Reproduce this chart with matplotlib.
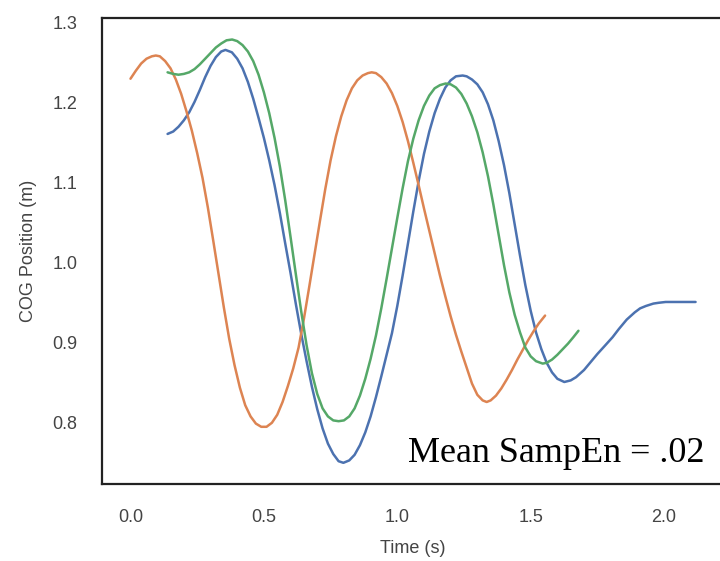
import matplotlib
matplotlib.use("Agg")
import matplotlib.pyplot as plt
import seaborn as sns

# trazos del centro de gravedad (tiempo en s, posición en m)
t_blue = [0.139, 0.16, 0.18, 0.20, 0.22, 0.24, 0.26, 0.28, 0.30, 0.32, 0.34, 0.356,
          0.38, 0.40, 0.42, 0.44, 0.46, 0.48, 0.50, 0.52, 0.54, 0.56, 0.58,
          0.60, 0.62, 0.64, 0.66, 0.68, 0.70, 0.72, 0.74, 0.76, 0.78, 0.798,
          0.82, 0.84, 0.86, 0.88, 0.90, 0.92, 0.94, 0.96, 0.98, 1.00, 1.02, 1.04,
          1.06, 1.08, 1.10, 1.12, 1.14, 1.16, 1.18, 1.20, 1.22, 1.245,
          1.26, 1.28, 1.30, 1.32, 1.34, 1.36, 1.38, 1.40, 1.42, 1.44, 1.46, 1.48,
          1.50, 1.52, 1.54, 1.56, 1.58, 1.60, 1.626,
          1.65, 1.67, 1.70, 1.72, 1.75, 1.78, 1.807, 1.83, 1.86, 1.89, 1.91, 1.932,
          1.96, 1.98, 2.006, 2.05, 2.118]
y_blue = [1.161, 1.164, 1.170, 1.178, 1.188, 1.201, 1.216, 1.232, 1.246, 1.257, 1.264, 1.266,
          1.263, 1.255, 1.243, 1.226, 1.205, 1.181, 1.156, 1.128, 1.097, 1.062, 1.024,
          0.987, 0.948, 0.911, 0.877, 0.845, 0.817, 0.793, 0.774, 0.761, 0.752, 0.750,
          0.753, 0.760, 0.772, 0.788, 0.808, 0.832, 0.858, 0.885, 0.912, 0.946, 0.984, 1.024,
          1.064, 1.102, 1.136, 1.164, 1.187, 1.205, 1.219, 1.228, 1.233, 1.234,
          1.233, 1.229, 1.223, 1.213, 1.198, 1.178, 1.152, 1.122, 1.087, 1.048, 1.009, 0.972,
          0.940, 0.913, 0.892, 0.875, 0.863, 0.855, 0.851,
          0.853, 0.857, 0.866, 0.874, 0.886, 0.897, 0.907, 0.917, 0.929, 0.938, 0.943, 0.946,
          0.949, 0.950, 0.951, 0.951, 0.951]

t_orange = [0.0, 0.02, 0.04, 0.06, 0.08, 0.095, 0.11, 0.13, 0.15, 0.17, 0.19, 0.21,
            0.23, 0.25, 0.27, 0.29, 0.31, 0.33, 0.35, 0.37, 0.39, 0.41, 0.43, 0.45,
            0.47, 0.49, 0.51, 0.53, 0.55, 0.57, 0.59, 0.61, 0.63, 0.65, 0.67, 0.69,
            0.71, 0.73, 0.75, 0.77, 0.79, 0.81, 0.83, 0.85, 0.87, 0.89, 0.904,
            0.92, 0.94, 0.96, 0.98, 1.00, 1.02, 1.04, 1.06, 1.08, 1.10, 1.12, 1.14,
            1.16, 1.18, 1.20, 1.22, 1.24, 1.26, 1.28, 1.30, 1.32, 1.335,
            1.35, 1.37, 1.39, 1.41, 1.43, 1.45, 1.47, 1.49, 1.51, 1.53, 1.554]
y_orange = [1.230, 1.240, 1.249, 1.255, 1.258, 1.259, 1.258, 1.252, 1.243, 1.229, 1.211, 1.189,
            1.165, 1.137, 1.106, 1.069, 1.028, 0.986, 0.944, 0.905, 0.872, 0.844, 0.822, 0.808,
            0.799, 0.795, 0.795, 0.800, 0.810, 0.826, 0.846, 0.868, 0.894, 0.930, 0.970, 1.011,
            1.052, 1.092, 1.128, 1.158, 1.183, 1.203, 1.218, 1.228, 1.234, 1.237, 1.238,
            1.237, 1.232, 1.224, 1.212, 1.196, 1.176, 1.152, 1.125, 1.097, 1.068, 1.040, 1.012,
            0.984, 0.958, 0.933, 0.910, 0.889, 0.869, 0.849, 0.835, 0.828, 0.826,
            0.828, 0.834, 0.843, 0.854, 0.866, 0.879, 0.891, 0.903, 0.914, 0.924, 0.934]

t_green = [0.139, 0.16, 0.18, 0.20, 0.22, 0.24, 0.26, 0.28, 0.30, 0.32, 0.34, 0.36, 0.381,
           0.40, 0.42, 0.44, 0.46, 0.48, 0.50, 0.52, 0.54, 0.56, 0.58, 0.60, 0.62,
           0.64, 0.66, 0.68, 0.70, 0.72, 0.74, 0.76, 0.78, 0.80,
           0.82, 0.84, 0.86, 0.88, 0.90, 0.92, 0.94, 0.96, 0.98, 1.00, 1.02, 1.04,
           1.06, 1.08, 1.10, 1.12, 1.14, 1.16, 1.181,
           1.20, 1.22, 1.24, 1.26, 1.28, 1.30, 1.32, 1.34, 1.36, 1.38, 1.40, 1.42,
           1.44, 1.46, 1.48, 1.50, 1.52, 1.545,
           1.56, 1.58, 1.60, 1.62, 1.64, 1.66, 1.679]
y_green = [1.238, 1.236, 1.235, 1.236, 1.238, 1.242, 1.248, 1.255, 1.262, 1.269, 1.274, 1.278, 1.279,
           1.277, 1.272, 1.264, 1.252, 1.235, 1.213, 1.187, 1.156, 1.120, 1.078, 1.032, 0.985,
           0.939, 0.897, 0.862, 0.836, 0.818, 0.808, 0.803, 0.802, 0.803,
           0.808, 0.818, 0.834, 0.855, 0.880, 0.909, 0.943, 0.980, 1.018, 1.056, 1.093, 1.127,
           1.155, 1.178, 1.196, 1.209, 1.218, 1.222, 1.224,
           1.223, 1.219, 1.211, 1.199, 1.183, 1.163, 1.138, 1.108, 1.073, 1.035, 0.997, 0.963,
           0.935, 0.913, 0.894, 0.883, 0.877, 0.874,
           0.875, 0.879, 0.885, 0.892, 0.899, 0.907, 0.915]

x_ticks = [0.0, 0.5, 1.0, 1.5, 2.0]
y_ticks = [0.8, 0.9, 1.0, 1.1, 1.2, 1.3]

sns.set_theme(style="white")
plt.rcParams["font.family"] = ["Liberation Sans", "DejaVu Sans"]

fig = plt.figure(figsize=(7.2, 5.61), dpi=100)
ax = fig.add_axes([0.142, 0.1373, 0.8633, 0.830])

pal = sns.color_palette("deep")
ax.plot(t_blue, y_blue, color=pal[0], lw=1.8)
ax.plot(t_orange, y_orange, color=pal[1], lw=1.8)
ax.plot(t_green, y_green, color=pal[2], lw=1.8)

ax.set_xticks(x_ticks)
ax.set_yticks(y_ticks)
ax.set_xticklabels([f"{v:.1f}" for v in x_ticks])
ax.set_yticklabels([f"{v:.1f}" for v in y_ticks])
ax.tick_params(axis="both", labelsize=13, labelcolor="#444444", pad=18, length=0)

ax.set_xlabel("Time (s)", fontsize=13, color="#444444", labelpad=10)
ax.set_ylabel("COG Position (m)", fontsize=13, color="#444444", labelpad=11)

for s in ax.spines.values():
    s.set_color("#222222")
    s.set_linewidth(1.6)

ax.text(0.9696, 0.047, "Mean SampEn = .02", transform=ax.transAxes,
        ha="right", va="baseline", fontsize=26, family="Liberation Serif",
        color="black")

fig.savefig("out.png", dpi=100)
